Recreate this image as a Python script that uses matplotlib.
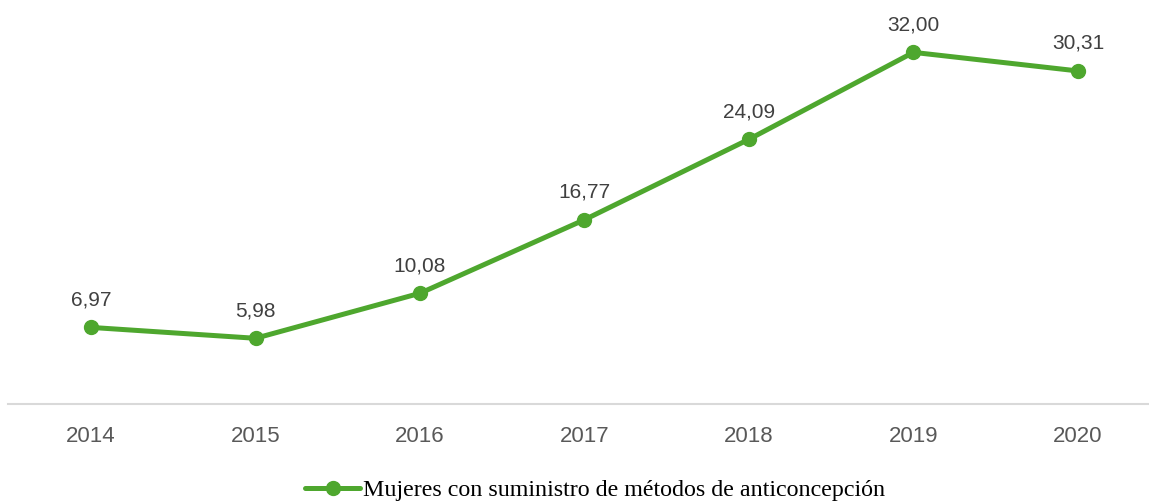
import matplotlib
matplotlib.use("Agg")
import matplotlib.pyplot as plt
from matplotlib import font_manager

years = ["2014", "2015", "2016", "2017", "2018", "2019", "2020"]
values = [6.97, 5.98, 10.08, 16.77, 24.09, 32.00, 30.31]
series_name = "Mujeres con suministro de métodos de anticoncepción"

names = {f.name for f in font_manager.fontManager.ttflist}
narrow = "Liberation Sans Narrow" if "Liberation Sans Narrow" in names else "Liberation Sans"

green = "#4EA72E"
fig = plt.figure(figsize=(11.49, 5.01), dpi=100)
ax = fig.add_axes([8/1149, 1 - 404/501, 1140/1149, 384.6/501])
x = list(range(len(years)))
ax.plot(x, values, color=green, lw=3.6, marker="o", markersize=10, solid_capstyle="round",
        label=series_name, zorder=3)
for xi, v in zip(x, values):
    ax.annotate(f"{v:.2f}".replace(".", ","), (xi, v), xytext=(0, 13), textcoords="offset points",
                ha="center", va="bottom", fontsize=15, color="#404040", family=narrow)
ax.set_xlim(-0.505, len(years) - 1 + 0.426)
ax.set_ylim(0, 35)
ax.set_xticks(x)
ax.set_xticklabels(years, fontsize=16, color="#595959", family=narrow)
ax.tick_params(axis="x", length=0, pad=16)
ax.set_yticks([])
for s in ["top", "right", "left"]:
    ax.spines[s].set_visible(False)
ax.spines["bottom"].set_color("#d9d9d9")
ax.spines["bottom"].set_linewidth(1.5)
fig.legend(loc="center", bbox_to_anchor=(595/1149, 1 - 490/501), frameon=False,
           prop={"family": "Liberation Serif", "size": 17.3}, handlelength=2.3,
           handletextpad=0.1, borderaxespad=0)
fig.savefig("out.png", dpi=100)
